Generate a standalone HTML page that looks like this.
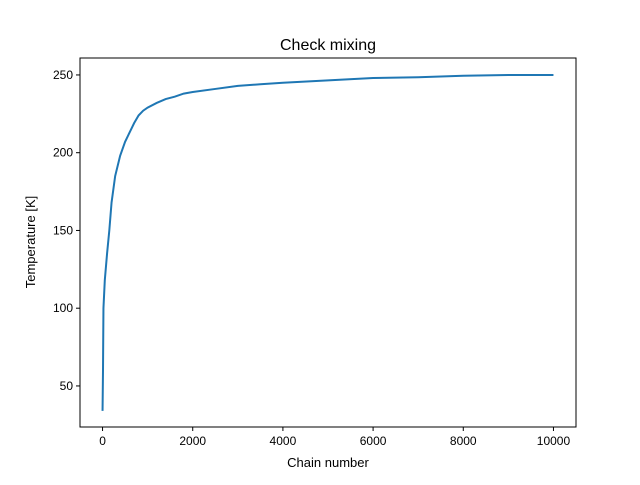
<!DOCTYPE html>
<html><head><meta charset="utf-8"><style>
body{margin:0;background:#fff;}
svg text{font-family:"Liberation Sans","DejaVu Sans",sans-serif;fill:#000;}
</style></head><body>
<svg id="chart" width="640" height="480" xmlns="http://www.w3.org/2000/svg">
<rect width="640" height="480" fill="#fff"/>
<text x="328" y="50" font-size="16" text-anchor="middle">Check mixing</text>
<g id="xt"></g>
<g id="yt"></g>
<path id="line" fill="none" stroke="#1f77b4" stroke-width="2"/>
<rect x="80" y="58" width="496" height="369" fill="none" stroke="#000" stroke-width="1"/>
<text x="328" y="467" font-size="13" text-anchor="middle">Chain number</text>
<text transform="translate(35,242) rotate(-90)" font-size="13" text-anchor="middle">Temperature [K]</text>
</svg>
<script>
const chainX=[0,10,20,50,100,150,200,280,390,500,600,700,800,900,1000,1200,1400,1600,1800,2000,2500,3000,3500,4000,5000,6000,7000,8000,9000,10000];
const tempY=[34,60,100,118,135,150,168,185,198,207,213,219,224,227,229,232,234.5,236,238,239,241,243,244,245,246.5,248,248.5,249.5,250,250];
const xTicks=[0,2000,4000,6000,8000,10000];
const yTicks=[50,100,150,200,250];
const X0=-500,X1=10500,Y0=23.6,Y1=260.9,L=80,R=576,T=58,B=427;
const sx=v=>L+(v-X0)/(X1-X0)*(R-L);
const sy=v=>B-(v-Y0)/(Y1-Y0)*(B-T);
const NS="http://www.w3.org/2000/svg";
document.getElementById('line').setAttribute('d',chainX.map((x,i)=>(i?'L':'M')+sx(x).toFixed(2)+','+sy(tempY[i]).toFixed(2)).join(''));
const xt=document.getElementById('xt');
xTicks.forEach(v=>{
 const l=document.createElementNS(NS,'line');
 l.setAttribute('x1',sx(v));l.setAttribute('x2',sx(v));l.setAttribute('y1',B);l.setAttribute('y2',B+4);l.setAttribute('stroke','#000');
 
 
 xt.appendChild(l);
 const t=document.createElementNS(NS,'text');
 t.setAttribute('x',sx(v));t.setAttribute('y',B+18);t.setAttribute('font-size','12');t.setAttribute('text-anchor','middle');t.textContent=v;
 
 
 xt.appendChild(t);
});
const yt=document.getElementById('yt');
yTicks.forEach(v=>{
 const l=document.createElementNS(NS,'line');
 l.setAttribute('x1',L-4);l.setAttribute('x2',L);l.setAttribute('y1',sy(v));l.setAttribute('y2',sy(v));l.setAttribute('stroke','#000');
 
 
 yt.appendChild(l);
 const t=document.createElementNS(NS,'text');
 t.setAttribute('x',L-7);t.setAttribute('y',sy(v)+4);t.setAttribute('font-size','12');t.setAttribute('text-anchor','end');t.textContent=v;
 
 
 yt.appendChild(t);
});
</script>
</body></html>
